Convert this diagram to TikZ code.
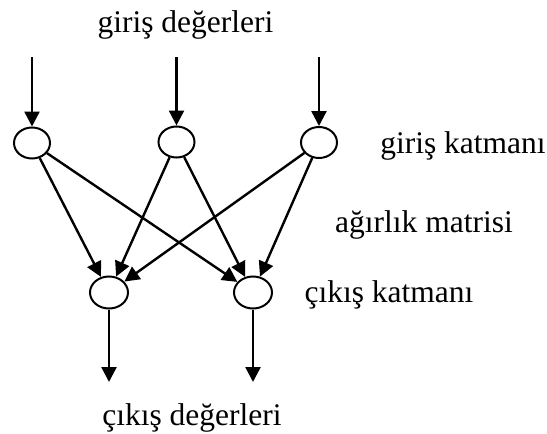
\documentclass[tikz,border=0pt]{standalone}
\usepackage{fontspec}
\setmainfont{Liberation Serif}
\usetikzlibrary{arrows.meta,shapes.geometric}
\tikzset{
  neuron/.style={draw, line width=2pt, ellipse, minimum width=36pt, minimum height=31pt, inner sep=0pt},
  conn/.style={line width=2.4pt, -{Triangle[length=15pt,width=15pt]}},
  lbl/.style={anchor=base, inner sep=0pt, font=\fontsize{31.5}{36}\selectfont}
}
\begin{document}
\begin{tikzpicture}[x=1pt,y=-1pt]
\useasboundingbox (0,0) rectangle (547,434);
\node[neuron] (i1) at (32,143) {};
\node[neuron] (i2) at (176.5,142) {};
\node[neuron] (i3) at (319,142.5) {};
\node[neuron, minimum width=38pt, minimum height=32pt] (o1) at (109,292.5) {};
\node[neuron, minimum width=38pt, minimum height=32pt] (o2) at (253,292.5) {};
\coordinate (t1) at (32,57);
\coordinate (t2) at (176.5,57);
\coordinate (t3) at (319,57);
\coordinate (b1) at (109,382);
\coordinate (b2) at (253,382);
\draw[conn] (t1) -- (i1);
\draw[conn] (t2) -- (i2);
\draw[conn] (t3) -- (i3);
\draw[conn] (i1) -- (o1);
\draw[conn] (i1) -- (o2);
\draw[conn] (i2) -- (o1);
\draw[conn] (i2) -- (o2);
\draw[conn] (i3) -- (o1);
\draw[conn] (i3) -- (o2);
\draw[conn] (o1) -- (b1);
\draw[conn] (o2) -- (b2);
\node[lbl] (l1) at (185.5,32) {giriş değerleri};
\node[lbl] (l2) at (463,153) {giriş katmanı};
\node[lbl] (l3) at (424,232) {ağırlık matrisi};
\node[lbl] (l4) at (389,302) {çıkış katmanı};
\node[lbl] (l5) at (192,425) {çıkış değerleri};
\end{tikzpicture}
\end{document}
